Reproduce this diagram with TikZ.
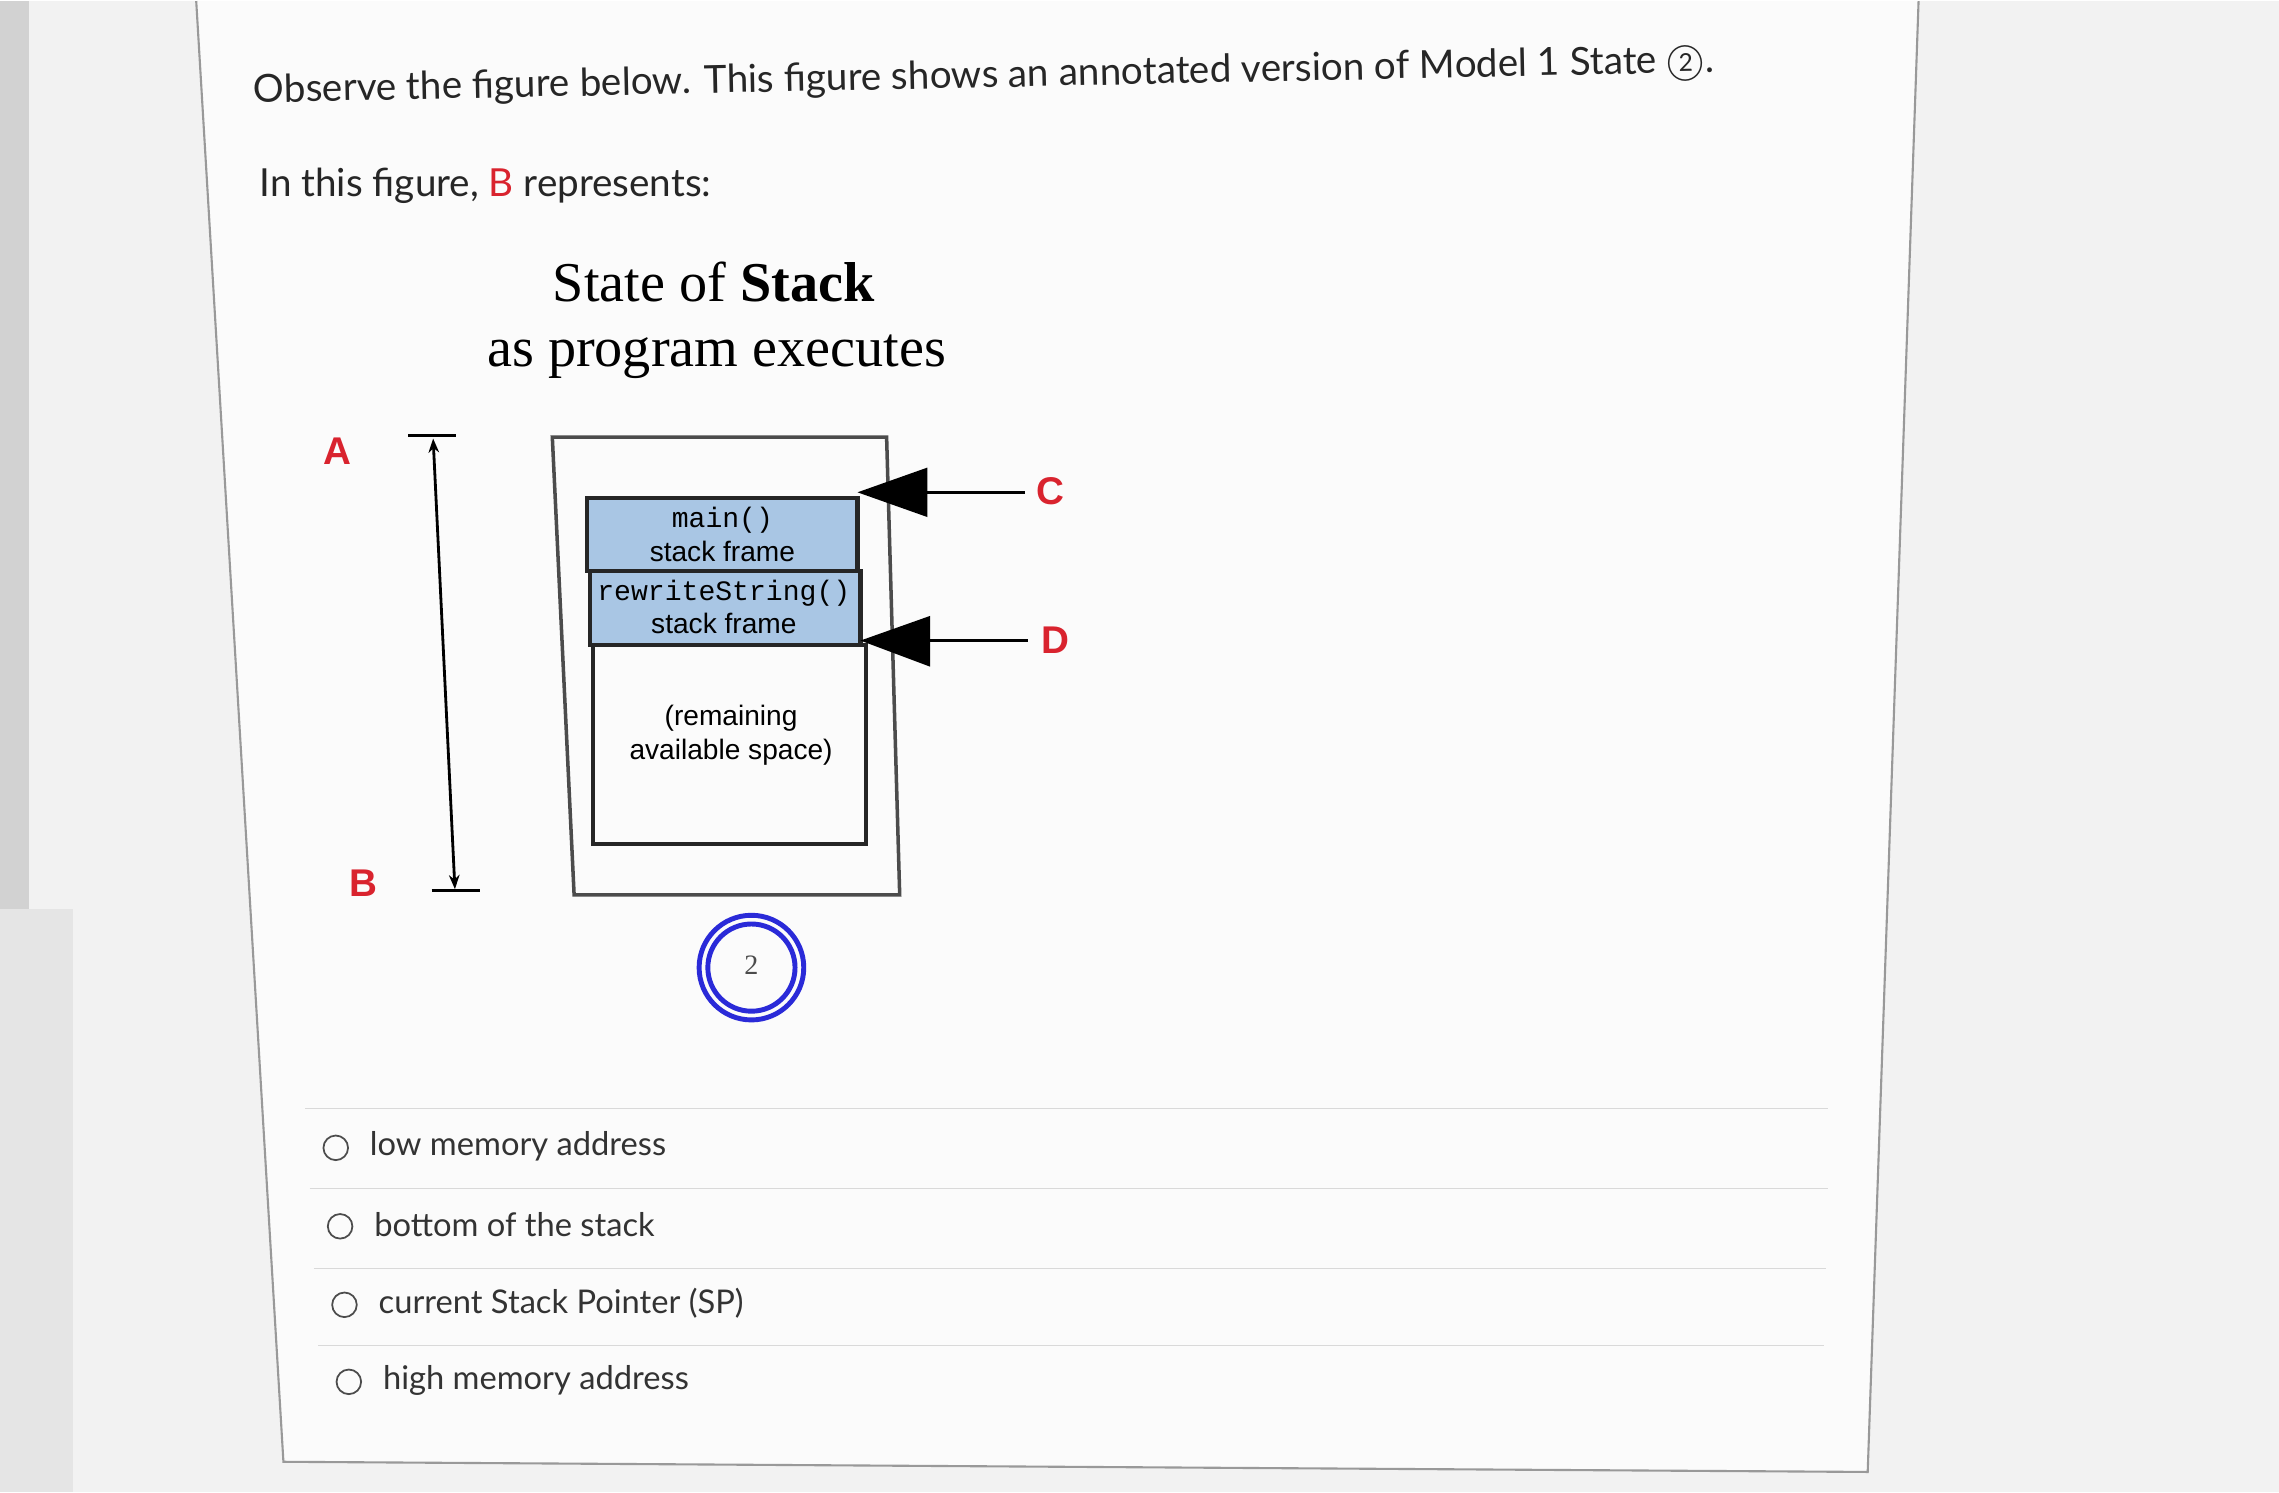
\documentclass[tikz,border=0pt]{standalone}
\usetikzlibrary{arrows.meta,calc}
\usepackage{fontspec}
\setmainfont{Lato}
\newfontfamily\serifx{Liberation Serif}
\newfontfamily\sansx{Liberation Sans}
\newfontfamily\monox{Liberation Mono}
\definecolor{qred}{HTML}{D9232E}
\definecolor{frameblue}{HTML}{A9C6E4}
\definecolor{ringblue}{HTML}{2A2AD8}
\begin{document}
\begin{tikzpicture}[x=0.014535cm,y=-0.014535cm,
  lbl/.style={font=\sansx\bfseries\fontsize{11}{13}\selectfont,text=qred},
  opt/.style={anchor=west,font=\fontsize{9.3}{11}\selectfont,text=black!80},
  radio/.style={draw=black!70,line width=0.5pt,circle,minimum size=7pt,inner sep=0pt},
  sep/.style={draw=black!15,line width=0.5pt},
  frame/.style={font=\sansx\fontsize{8}{9.5}\selectfont,align=center}]
\fill[gray!10] (0,0) rectangle (1568,1026);
\fill[gray!35] (0,0) rectangle (20,625);
\fill[gray!20] (0,625) rectangle (50,1026);
\fill[white!60!gray!8] (135,0) -- (1320,0) -- (1285,1012) -- (195,1005) -- cycle;
\draw[black!40,line width=0.6pt] (135,0) -- (195,1005) -- (1285,1012) -- (1320,0);
% header text
\node[anchor=west,font=\fontsize{11}{13}\selectfont,rotate=1.2,text=black!85] (q1) at (166,63) {Observe the figure below. This figure shows an annotated version of Model 1 State \textcircled{\scriptsize 2}.};
\node[anchor=west,font=\fontsize{11}{13}\selectfont,text=black!85] (q2) at (170,127) {In this figure, \textcolor{qred}{B} represents:};
% title
\node[font=\serifx\fontsize{16}{18}\selectfont] (t1) at (491,193) {State of \textbf{Stack}};
\node[font=\serifx\fontsize{16}{18}\selectfont] (t2) at (493,245) {as program executes};
% outer box
\draw[black!70,line width=1pt] (380,300) -- (610,300) -- (619,615) -- (395,615) -- cycle;
% inner frames
\draw[black!85,line width=1.2pt,fill=frameblue] (404,342) rectangle (590,392);
\draw[black!85,line width=1.2pt,fill=frameblue] (406,392) rectangle (592,443);
\draw[black!85,line width=1.2pt] (408,443) rectangle (596,580);
\node[frame] (f1) at (497,367) {{\monox main()}\\stack frame};
\node[frame] (f2) at (498,417) {{\monox rewriteString()}\\stack frame};
\node[frame] (f3) at (503,505) {(remaining\\available space)};
% pointers
\coordinate (cp) at (590,338);
\coordinate (dp) at (592,440);
\fill[black] (cp) -- (638,321) -- (638,355) -- cycle;
\draw[black,line width=0.8pt] (638,338) -- (705,338);
\node[lbl] (C) at (723,337) {C};
\fill[black] (dp) -- (640,423) -- (640,458) -- cycle;
\draw[black,line width=0.8pt] (640,440) -- (707,440);
\node[lbl] (D) at (726,440) {D};
% A-B dimension
\node[lbl] (A) at (232,310) {A};
\node[lbl] (B) at (250,607) {B};
\coordinate (atop) at (298,300);
\coordinate (bbot) at (313,612);
\draw[black,line width=0.8pt] (281,299) -- (314,299);
\draw[black,line width=0.8pt] (297,612) -- (330,612);
\draw[black,line width=0.8pt,-{Stealth[length=4pt]}] ($(atop)!0.5!(bbot)$) -- (298,301);
\draw[black,line width=0.8pt,-{Stealth[length=4pt]}] ($(atop)!0.5!(bbot)$) -- (313,611);
% state circle
\draw[ringblue,line width=1.4pt] (517,665) circle (36);
\draw[ringblue,line width=1.4pt] (517,665) circle (30);
\node[font=\serifx\fontsize{8}{9}\selectfont,text=black!70] (s2) at (517,663) {2};
% options
\draw[sep] (210,762) -- (1258,762);
\draw[sep] (213,817) -- (1258,817);
\draw[sep] (216,872) -- (1256,872);
\draw[sep] (219,925) -- (1255,925);
\node[radio] (r1) at (231,789) {};
\node[opt] (o1) at (246,788) {low memory address};
\node[radio] (r2) at (234,843) {};
\node[opt] (o2) at (249,842) {bottom of the stack};
\node[radio] (r3) at (237,897) {};
\node[opt] (o3) at (252,896) {current Stack Pointer (SP)};
\node[radio] (r4) at (240,950) {};
\node[opt] (o4) at (255,949) {high memory address};
\end{tikzpicture}
\end{document}
